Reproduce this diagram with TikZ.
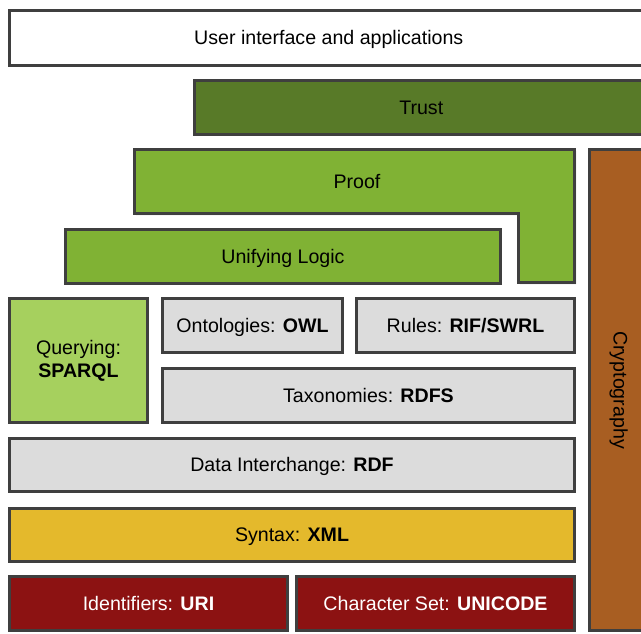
\documentclass[tikz,border=0pt]{standalone}
\usepackage{fontspec}
\setmainfont{Liberation Sans}
\usetikzlibrary{shadows}
\definecolor{edge}{HTML}{3F3F3F}
\definecolor{trustgreen}{HTML}{587A28}
\definecolor{logicgreen}{HTML}{80B234}
\definecolor{querygreen}{HTML}{A6D05E}
\definecolor{stackgray}{HTML}{DCDCDC}
\definecolor{syntaxyellow}{HTML}{E4B92C}
\definecolor{basered}{HTML}{8C1212}
\definecolor{cryptobrown}{HTML}{A85E22}
\tikzset{
  softshadow/.style={drop shadow={shadow xshift=1.5pt, shadow yshift=-1.5pt, opacity=0.3, fill=black}},
  labelfont/.style={font=\fontsize{19.6}{23}\selectfont},
  capcentred/.style={text height=13pt, text depth=0pt},
  layer/.style={draw=edge, line width=2.8pt, rectangle, inner sep=0pt, softshadow,
    labelfont, align=center, capcentred},
  wh/.style 2 args={minimum width=#1pt, minimum height=#2pt},
}
\begin{document}
\begin{tikzpicture}[x=1pt,y=-1pt]
\useasboundingbox (0,0) rectangle (641,633);

% top of the stack
\node[layer, fill=white, wh={638.5}{55}] (ui) at (328.75,38) {User interface and applications};
\node[layer, fill=trustgreen, wh={453.5}{54}] (trust) at (421.25,107.5) {Trust};

% Proof wraps around Unifying Logic
\draw[draw=edge, line width=2.8pt, fill=logicgreen, softshadow, line join=miter]
  (134.5,149.5) -- (574.5,149.5) -- (574.5,282.5) -- (518.5,282.5)
  -- (518.5,213.5) -- (134.5,213.5) -- cycle;
\node[labelfont, capcentred, inner sep=0pt] (proof) at (357,181.5) {Proof};
\node[layer, fill=logicgreen, wh={435}{54}] (logic) at (283,256.5) {Unifying Logic};

% vertical cryptography column
\node[layer, fill=cryptobrown, wh={58.5}{481}] (crypto) at (618.75,390) {};
\node[rotate=-90, labelfont] (cryptotext) at (crypto.center) {Cryptography};

% middle layers
\node[layer, fill=querygreen, wh={138}{124}, text height=, text depth=] (query) at (78.5,360.5) {Querying:\\\textbf{SPARQL}};
\node[layer, fill=stackgray, wh={180}{54}] (owl) at (252.5,325.5) {Ontologies: \textbf{OWL}};
\node[layer, fill=stackgray, wh={218}{54}] (rules) at (465.5,325.5) {Rules: \textbf{RIF/SWRL}};
\node[layer, fill=stackgray, wh={412}{54}] (rdfs) at (368.5,395.5) {Taxonomies: \textbf{RDFS}};
\node[layer, fill=stackgray, wh={565}{53}] (rdf) at (292,465) {Data Interchange: \textbf{RDF}};
\node[layer, fill=syntaxyellow, wh={565}{53}] (xml) at (292,535) {Syntax: \textbf{XML}};

% foundation
\node[layer, fill=basered, text=white, wh={278}{54}] (uri) at (148.5,603.5) {Identifiers: \textbf{URI}};
\node[layer, fill=basered, text=white, wh={278}{54}] (unicode) at (435.5,603.5) {Character Set: \textbf{UNICODE}};
\end{tikzpicture}
\end{document}
